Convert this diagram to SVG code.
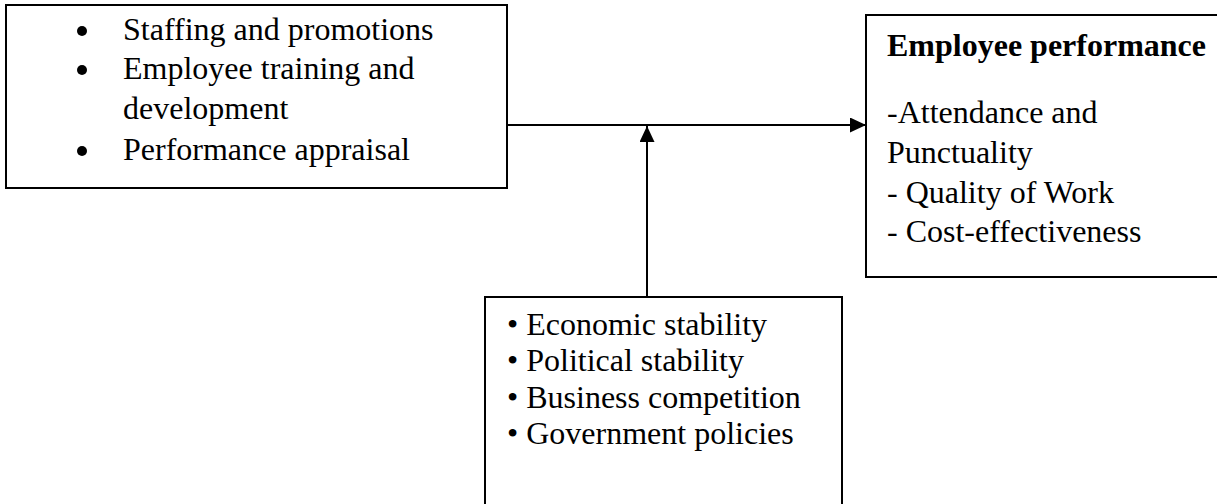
<svg xmlns="http://www.w3.org/2000/svg" width="1217" height="504" viewBox="0 0 1217 504">
<style>
.box{fill:#fff;stroke:#000;stroke-width:2}
.t{font-family:"Liberation Serif","Times New Roman",serif;font-size:32px;fill:#000}
.b{font-weight:bold}
.ln{stroke:#000;stroke-width:2;fill:none}
</style>
<defs>
<marker id="arr" markerUnits="userSpaceOnUse" markerWidth="16" markerHeight="15" refX="16" refY="7.5" orient="auto">
<path d="M0,0 L16,7.5 L0,15 z" fill="#000"/>
</marker>
</defs>
<rect width="1217" height="504" fill="#fff"/>
<g id="connectors">
<line class="ln" x1="507" y1="125" x2="866" y2="125" marker-end="url(#arr)"/>
<line class="ln" x1="647" y1="297" x2="647" y2="126" marker-end="url(#arr)"/>
</g>
<g id="hr-practices">
<rect class="box" x="6" y="5" width="501" height="183"/>
<circle cx="82" cy="31" r="5"/>
<circle cx="82" cy="70" r="5"/>
<circle cx="82" cy="151" r="5"/>
<text class="t" x="123" y="40">Staffing and promotions</text>
<text class="t" x="123" y="79">Employee training and</text>
<text class="t" x="123" y="119">development</text>
<text class="t" x="123" y="160">Performance appraisal</text>
</g>
<g id="employee-performance">
<rect class="box" x="866" y="15" width="360" height="262"/>
<text class="t b" x="887" y="56">Employee performance</text>
<text class="t" x="887" y="123">-Attendance and</text>
<text class="t" x="887" y="163">Punctuality</text>
<text class="t" x="887" y="203">- Quality of Work</text>
<text class="t" x="887" y="242">- Cost-effectiveness</text>
</g>
<g id="external-factors">
<rect class="box" x="485" y="297" width="357" height="220"/>
<text class="t" x="507" y="335">• Economic stability</text>
<text class="t" x="507" y="371">• Political stability</text>
<text class="t" x="507" y="408">• Business competition</text>
<text class="t" x="507" y="444">• Government policies</text>
</g>
</svg>
